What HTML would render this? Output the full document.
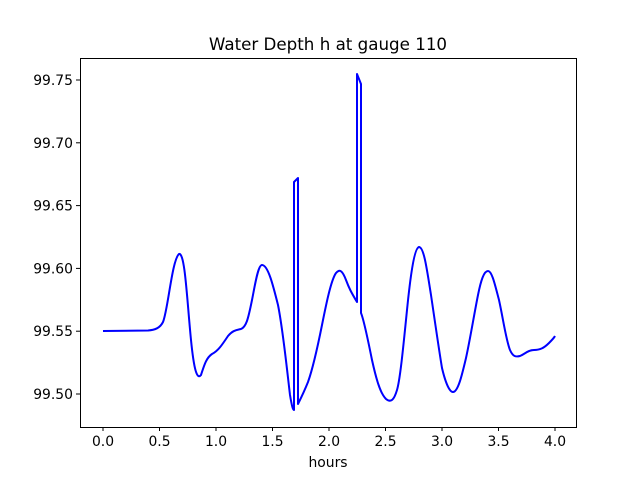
<!DOCTYPE html>
<html><head><meta charset="utf-8"><style>body{margin:0;background:#fff}svg{display:block}text{font-family:"DejaVu Sans","Liberation Sans",sans-serif;font-size:13.9px;fill:#000}</style></head>
<body>
<svg width="640" height="480" viewBox="0 0 640 480">
<rect width="640" height="480" fill="#fff"/>
<text x="328" y="50" text-anchor="middle" style="font-size:16.7px">Water Depth h at gauge 110</text>
<path d="M103,331 L148,330.5 C155,330 160,328 163,322 C168,310 172,260 179,254 C185,252 187,300 191,340 C194,370 197,380 201,375 C204,366 206,358 212,354 C218,351 222,345 228,336 C233,330 237,330 241,329 C246,327 248,320 252,300 C255,285 258,265 262,265 C268,265 273,285 278,305 C283,330 287,370 290,395 C292,407 293,410 294,410 L294,182 L298,178 L298,404 C301,398 304,392 308,382 C313,368 318,345 322,325 C326,305 331,280 336,273 C340,268 343,272 346,280 C349,288 351,292 357,302 L357,74 L361,84 L361,313 C364,320 368,340 372,360 C376,378 380,393 386,399 C391,403 394,400 397,390 C400,380 403,350 407,310 C410,280 414,248 419,247 C424,247 427,270 431,295 C435,322 439,350 442,368 C446,385 450,392 453,392 C458,392 462,375 466,358 C470,340 474,315 478,295 C481,280 484,271 488,271 C492,271 495,285 499,300 C503,318 506,340 510,350 C513,357 516,357 520,356 C525,354 528,350 534,350 C540,350 544,348 549,343 C552,340 554,338 555,336" fill="none" stroke="#0000ff" stroke-width="2" stroke-linejoin="round"/>
<rect x="80.5" y="58.5" width="496" height="369" fill="none" stroke="#000" stroke-width="1"/>
<g stroke="#000" stroke-width="1">
<line x1="103" y1="427" x2="103" y2="431"/><line x1="159.5" y1="427" x2="159.5" y2="431"/><line x1="216" y1="427" x2="216" y2="431"/><line x1="272.5" y1="427" x2="272.5" y2="431"/><line x1="329" y1="427" x2="329" y2="431"/><line x1="385.5" y1="427" x2="385.5" y2="431"/><line x1="442" y1="427" x2="442" y2="431"/><line x1="498.5" y1="427" x2="498.5" y2="431"/><line x1="555" y1="427" x2="555" y2="431"/>
<line x1="76" y1="394" x2="80" y2="394"/><line x1="76" y1="331.2" x2="80" y2="331.2"/><line x1="76" y1="268.4" x2="80" y2="268.4"/><line x1="76" y1="205.6" x2="80" y2="205.6"/><line x1="76" y1="142.8" x2="80" y2="142.8"/><line x1="76" y1="80" x2="80" y2="80"/>
</g>
<g text-anchor="middle">
<text x="103" y="446">0.0</text><text x="159.5" y="446">0.5</text><text x="216" y="446">1.0</text><text x="272.5" y="446">1.5</text><text x="329" y="446">2.0</text><text x="385.5" y="446">2.5</text><text x="442" y="446">3.0</text><text x="498.5" y="446">3.5</text><text x="555" y="446">4.0</text>
<text x="328" y="467">hours</text>
</g>
<g text-anchor="end">
<text x="73" y="399">99.50</text><text x="73" y="336">99.55</text><text x="73" y="273.5">99.60</text><text x="73" y="210.5">99.65</text><text x="73" y="148">99.70</text><text x="73" y="85">99.75</text>
</g>
</svg>
</body></html>
